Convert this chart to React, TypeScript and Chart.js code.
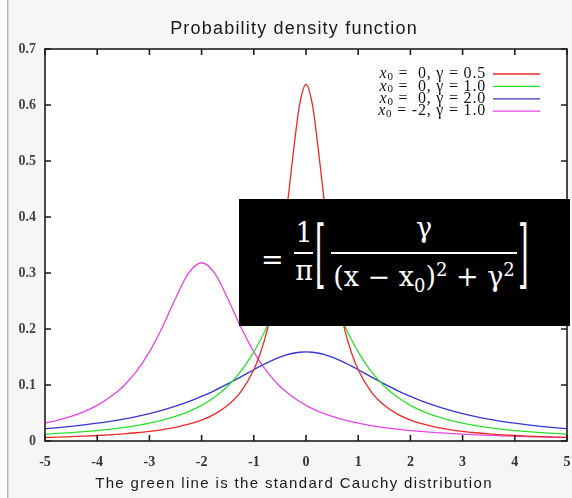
import React, { useEffect, useRef } from "react";
import { Chart, registerables } from "chart.js";

Chart.register(...registerables);

const titleText = "Probability density function";
const captionText = "The green line is the standard Cauchy distribution";

const xValues = [
  -5, -4.75, -4.5, -4.25, -4, -3.75, -3.5, -3.25, -3, -2.75, -2.5, -2.25, -2, -1.75, -1.5, -1.25, -1,
  -0.875, -0.75, -0.625, -0.5, -0.375, -0.25, -0.125, 0, 0.125, 0.25, 0.375, 0.5, 0.625, 0.75, 0.875,
  1, 1.25, 1.5, 1.75, 2, 2.25, 2.5, 2.75, 3, 3.25, 3.5, 3.75, 4, 4.25, 4.5, 4.75, 5,
];

const redValues = [
  0.0063, 0.007, 0.0078, 0.0087, 0.0098, 0.0111, 0.0127, 0.0147, 0.0172, 0.0204, 0.0245, 0.03, 0.0374, 0.048, 0.0637, 0.0878, 0.1273,
  0.1567, 0.1959, 0.2484, 0.3183, 0.4074, 0.5093, 0.5992, 0.6366, 0.5992, 0.5093, 0.4074, 0.3183, 0.2484, 0.1959, 0.1567,
  0.1273, 0.0878, 0.0637, 0.048, 0.0374, 0.03, 0.0245, 0.0204, 0.0172, 0.0147, 0.0127, 0.0111, 0.0098, 0.0087, 0.0078, 0.007, 0.0063,
];

const greenValues = [
  0.0122, 0.0135, 0.015, 0.0167, 0.0187, 0.0211, 0.024, 0.0275, 0.0318, 0.0372, 0.0439, 0.0525, 0.0637, 0.0784, 0.0979, 0.1242, 0.1592,
  0.1803, 0.2037, 0.2289, 0.2546, 0.2791, 0.2996, 0.3134, 0.3183, 0.3134, 0.2996, 0.2791, 0.2546, 0.2289, 0.2037, 0.1803,
  0.1592, 0.1242, 0.0979, 0.0784, 0.0637, 0.0525, 0.0439, 0.0372, 0.0318, 0.0275, 0.024, 0.0211, 0.0187, 0.0167, 0.015, 0.0135, 0.0122,
];

const blueValues = [
  0.022, 0.024, 0.0263, 0.0289, 0.0318, 0.0352, 0.0392, 0.0437, 0.049, 0.0551, 0.0621, 0.0702, 0.0796, 0.0901, 0.1019, 0.1144, 0.1273,
  0.1336, 0.1395, 0.145, 0.1498, 0.1538, 0.1567, 0.1585, 0.1592, 0.1585, 0.1567, 0.1538, 0.1498, 0.145, 0.1395, 0.1336,
  0.1273, 0.1144, 0.1019, 0.0901, 0.0796, 0.0702, 0.0621, 0.0551, 0.049, 0.0437, 0.0392, 0.0352, 0.0318, 0.0289, 0.0263, 0.024, 0.022,
];

const magentaValues = [
  0.0318, 0.0372, 0.0439, 0.0525, 0.0637, 0.0784, 0.0979, 0.1242, 0.1592, 0.2037, 0.2546, 0.2996, 0.3183, 0.2996, 0.2546, 0.2037, 0.1592,
  0.1405, 0.1242, 0.1101, 0.0979, 0.0874, 0.0784, 0.0705, 0.0637, 0.0577, 0.0525, 0.0479, 0.0439, 0.0403, 0.0372, 0.0344,
  0.0318, 0.0275, 0.024, 0.0211, 0.0187, 0.0167, 0.015, 0.0135, 0.0122, 0.0111, 0.0102, 0.0093, 0.0086, 0.0079, 0.0074, 0.0068, 0.0064,
];

const legendX0 = ["0", "0", "0", "-2"];
const legendGamma = ["0.5", "1.0", "2.0", "1.0"];
const seriesColors = ["#f02828", "#2ee02e", "#3535d0", "#e645e6"];

const xMin = -5;
const xMax = 5;
const xStep = 1;
const yMin = 0;
const yMax = 0.7;
const yStep = 0.1;

const seriesValues = [redValues, greenValues, blueValues, magentaValues];

const decorPlugin = {
  id: "decor",
  beforeDraw(chart: any) {
    const { ctx, width, height, chartArea } = chart;
    ctx.save();
    ctx.fillStyle = "#f6f6f6";
    ctx.fillRect(0, 0, width, height);
    ctx.fillStyle = "#ffffff";
    ctx.fillRect(0, 0, 7, height);
    ctx.fillStyle = "#b5b5b5";
    ctx.fillRect(7, 0, 1.5, height);
    ctx.fillStyle = "#ffffff";
    ctx.fillRect(chartArea.left, chartArea.top, chartArea.right - chartArea.left, chartArea.bottom - chartArea.top);
    ctx.restore();
  },
  afterDatasetsDraw(chart: any) {
    const { ctx, chartArea } = chart;
    const { left, right, top, bottom } = chartArea;
    const xs = chart.scales.x;
    const ys = chart.scales.y;
    ctx.save();
    ctx.strokeStyle = "#1e1e1e";
    ctx.lineWidth = 1.6;
    ctx.strokeRect(left, top, right - left, bottom - top);
    const tl = 6;
    ctx.beginPath();
    xs.ticks.forEach((t: any) => {
      const px = xs.getPixelForValue(t.value);
      ctx.moveTo(px, bottom);
      ctx.lineTo(px, bottom - tl);
      ctx.moveTo(px, top);
      ctx.lineTo(px, top + tl);
    });
    ys.ticks.forEach((t: any) => {
      const py = ys.getPixelForValue(t.value);
      ctx.moveTo(left, py);
      ctx.lineTo(left + tl, py);
      ctx.moveTo(right, py);
      ctx.lineTo(right - tl, py);
    });
    ctx.stroke();

    // legend
    const textRight = left + 441;
    const lineStart = left + 448;
    const lineEnd = left + 495;
    chart.data.datasets.forEach((ds: any, i: number) => {
      const y = top + 25 + i * 12.4;
      const rest = (legendX0[i].length < 2 ? " =  " : " = ") + legendX0[i] + ", \u03b3 = " + legendGamma[i];
      ctx.textBaseline = "middle";
      ctx.fillStyle = "#161616";
      (ctx as any).letterSpacing = "0.8px";
      ctx.font = "italic 16px 'Liberation Serif'";
      const wx = ctx.measureText("x").width;
      ctx.font = "11px 'Liberation Serif'";
      const w0 = ctx.measureText("0").width;
      ctx.font = "16px 'Liberation Serif'";
      const wr = ctx.measureText(rest).width;
      let x = textRight - (wx + w0 + wr);
      ctx.font = "italic 16px 'Liberation Serif'";
      ctx.textAlign = "left";
      ctx.fillText("x", x, y);
      x += wx;
      ctx.font = "11px 'Liberation Serif'";
      ctx.fillText("0", x, y + 3);
      x += w0;
      ctx.font = "16px 'Liberation Serif'";
      ctx.fillText(rest, x, y);
      ctx.strokeStyle = ds.borderColor;
      ctx.lineWidth = 1.3;
      ctx.beginPath();
      ctx.moveTo(lineStart, y);
      ctx.lineTo(lineEnd, y);
      ctx.stroke();
    });
    ctx.restore();
  },
  afterDraw(chart: any) {
    const { ctx } = chart;
    ctx.save();
    ctx.fillStyle = "#1a1a1a";
    ctx.textAlign = "center";
    ctx.textBaseline = "alphabetic";
    (ctx as any).letterSpacing = "1.2px";
    ctx.font = "18px 'Liberation Sans'";
    ctx.fillText(titleText, 294, 34);
    (ctx as any).letterSpacing = "1.35px";
    ctx.font = "15px 'Liberation Sans'";
    ctx.fillText(captionText, 294, 488);
    ctx.restore();
  },
};

function ChartCanvas() {
  const ref = useRef<HTMLCanvasElement | null>(null);
  useEffect(() => {
    if (!ref.current) return;
    const chart = new Chart(ref.current, {
      type: "line",
      data: {
        datasets: seriesValues.map((vals, i) => ({
          label: "x0 = " + legendX0[i] + ", \u03b3 = " + legendGamma[i],
          data: xValues.map((x, j) => ({ x, y: vals[j] })),
          borderColor: seriesColors[i],
          borderWidth: 1.3,
          pointRadius: 0,
          fill: false,
          cubicInterpolationMode: "monotone" as const,
        })),
      },
      options: {
        animation: false,
        responsive: false,
        layout: { padding: { top: 49, right: 5, left: 0, bottom: 0 } },
        plugins: {
          legend: { display: false },
          title: { display: false },
          tooltip: { enabled: false },
        },
        scales: {
          x: {
            type: "linear",
            min: xMin,
            max: xMax,
            grid: { display: false, drawTicks: true, tickLength: 13 },
            border: { display: false },
            ticks: {
              stepSize: xStep,
              padding: 0,
              color: "#333",
              font: { family: "'Liberation Serif'", size: 14, weight: "bold" },
              maxRotation: 0,
            },
            afterFit(scale: any) {
              scale.height = 57;
            },
          },
          y: {
            type: "linear",
            min: yMin,
            max: yMax,
            grid: { display: false, drawTicks: false },
            border: { display: false },
            ticks: {
              stepSize: yStep,
              padding: 9,
              color: "#444",
              font: { family: "'Liberation Serif'", size: 14, weight: "bold" },
            },
            afterFit(scale: any) {
              scale.width = 45;
            },
          },
        },
      },
      plugins: [decorPlugin],
    });
    return () => chart.destroy();
  }, []);
  return <canvas ref={ref} width={572} height={498} style={{ display: "block" }} />;
}

const boxText: React.CSSProperties = {
  position: "absolute",
  fontFamily: "'DejaVu Serif', serif",
  fontSize: 27,
  lineHeight: "27px",
  color: "#fff",
  whiteSpace: "nowrap",
};

const small: React.CSSProperties = { fontSize: 18, lineHeight: 0, position: "relative" };

export default function App() {
  return (
    <div style={{ position: "absolute", left: 0, top: 0, width: 572, height: 498, overflow: "hidden" }}>
      <ChartCanvas />
      <div style={{ position: "absolute", left: 239, top: 199, width: 331, height: 127, background: "#000" }}>
        <div style={{ ...boxText, left: 22, top: 47 }}>=</div>
        <div style={{ ...boxText, left: 54, width: 22, top: 20, textAlign: "center" }}>1</div>
        <div style={{ position: "absolute", left: 55, top: 53, width: 19, height: 2, background: "#fff" }} />
        <div style={{ ...boxText, left: 54, width: 22, top: 58, textAlign: "center" }}>π</div>
        <div style={{ ...boxText, left: 76, top: 41, transform: "scaleY(2.8)", transformOrigin: "50% 53%" }}>[</div>
        <div style={{ ...boxText, left: 91, width: 188, top: 15, textAlign: "center" }}>γ</div>
        <div style={{ position: "absolute", left: 92, top: 53, width: 186, height: 2, background: "#fff" }} />
        <div style={{ ...boxText, left: 91, width: 188, top: 64, textAlign: "center" }}>
          (x − x<span style={{ ...small, top: 6 }}>0</span>)<span style={{ ...small, top: -10 }}>2</span> + γ
          <span style={{ ...small, top: -10 }}>2</span>
        </div>
        <div style={{ ...boxText, left: 279, top: 41, transform: "scaleY(2.8)", transformOrigin: "50% 53%" }}>]</div>
      </div>
    </div>
  );
}
